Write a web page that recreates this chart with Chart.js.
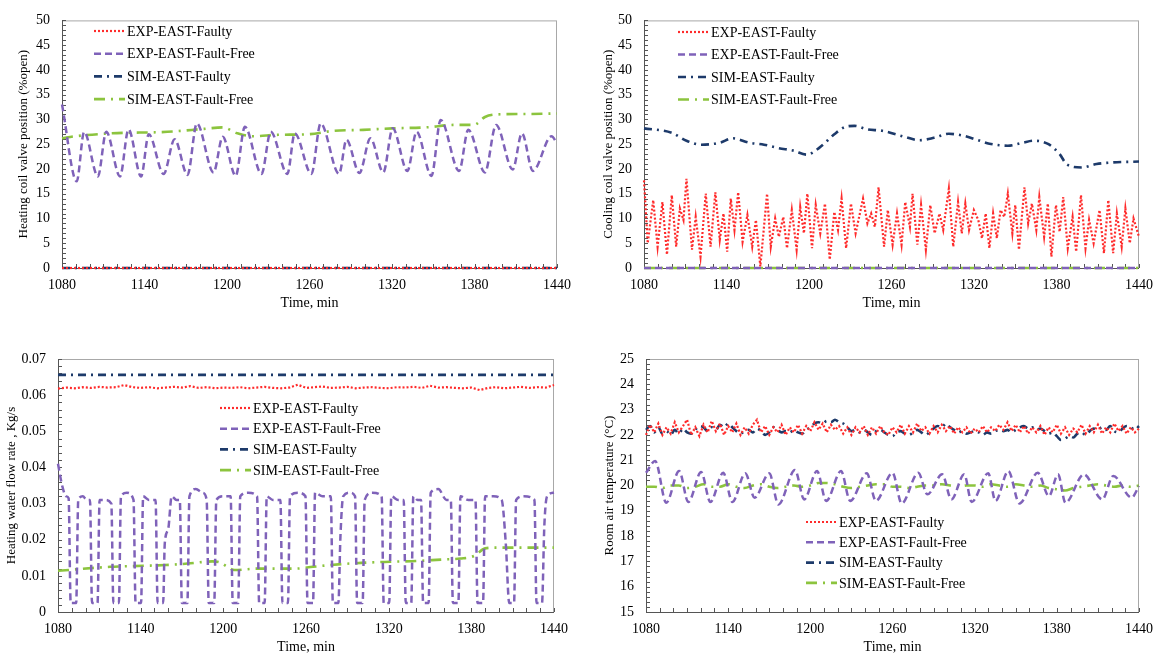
<!DOCTYPE html>
<html>
<head>
<meta charset="utf-8">
<title>EAST zone – faulty vs fault-free</title>
<script src="https://cdn.jsdelivr.net/npm/chart.js@4.4.1/dist/chart.umd.min.js"></script>
<style>
  html, body { margin: 0; padding: 0; background: #fff; overflow: hidden; }
  canvas { position: absolute; }
</style>
</head>
<body>
<canvas id="heatValve" width="580" height="320" style="left:0;top:0"></canvas>
<canvas id="coolValve" width="582" height="320" style="left:580px;top:0"></canvas>
<canvas id="waterFlow" width="580" height="330" style="left:0;top:330px"></canvas>
<canvas id="roomTemp" width="582" height="330" style="left:580px;top:330px"></canvas>
<script>
// ---- data (time in min) ----
var seriesNames = ["EXP-EAST-Faulty", "EXP-EAST-Fault-Free", "SIM-EAST-Faulty", "SIM-EAST-Fault-Free"];
var xTicks = [1080, 1140, 1200, 1260, 1320, 1380, 1440];
var valveTicks = [0, 5, 10, 15, 20, 25, 30, 35, 40, 45, 50];
var flowTicks = [0, 0.01, 0.02, 0.03, 0.04, 0.05, 0.06, 0.07];
var tempTicks = [15, 16, 17, 18, 19, 20, 21, 22, 23, 24, 25];

var zeroT = [1080, 1440];
var zeroV = [0, 0];

var t3 = [1080,1083,1086,1089,1092,1095,1098,1101,1104,1107,
  1110,1113,1116,1119,1122,1125,1128,1131,1134,1137,
  1140,1143,1146,1149,1152,1155,1158,1161,1164,1167,
  1170,1173,1176,1179,1182,1185,1188,1191,1194,1197,
  1200,1203,1206,1209,1212,1215,1218,1221,1224,1227,
  1230,1233,1236,1239,1242,1245,1248,1251,1254,1257,
  1260,1263,1266,1269,1272,1275,1278,1281,1284,1287,
  1290,1293,1296,1299,1302,1305,1308,1311,1314,1317,
  1320,1323,1326,1329,1332,1335,1338,1341,1344,1347,
  1350,1353,1356,1359,1362,1365,1368,1371,1374,1377,
  1380,1383,1386,1389,1392,1395,1398,1401,1404,1407,
  1410,1413,1416,1419,1422,1425,1428,1431,1434,1437,
  1440];
var t6 = [1080,1086,1092,1098,1104,1110,1116,1122,1128,1134,
  1140,1146,1152,1158,1164,1170,1176,1182,1188,1194,
  1200,1206,1212,1218,1224,1230,1236,1242,1248,1254,
  1260,1266,1272,1278,1284,1290,1296,1302,1308,1314,
  1320,1326,1332,1338,1344,1350,1356,1362,1368,1374,
  1380,1386,1392,1398,1404,1410,1416,1422,1428,1434,
  1440];

// heating coil valve
var heatExpFreeT = [1080,1090.7,1096.1,1106.1,1112.2,1122.2,1128.4,1137.5,1143.1,1153.9,
  1161.9,1171.3,1178.1,1190.2,1196.9,1206.3,1213.0,1225.1,1231.8,1243.9,
  1249.3,1261.4,1268.1,1281.5,1286.9,1296.3,1304.3,1313.7,1320.5,1331.2,
  1337.9,1348.7,1355.4,1368.8,1375.5,1387.6,1395.7,1407.8,1414.5,1422.5,
  1436.0,1440];
var heatExpFreeV = [33,17.5,27.5,18.5,27.5,18.5,28,18.5,27,19,
  26,18.8,29.2,19.3,26.5,18.6,28.5,19,27.5,19,
  27.2,19,29.2,19,25.9,19.2,26.2,19.3,28.2,19.6,
  27.5,18.6,29.9,19.6,27.9,19.3,28.9,19.9,27.2,19.6,
  26.6,25.2];
var heatSimFreeT = [1080,1089.4,1116.3,1156.6,1183.4,1196.9,1207.6,1218.4,1237.2,1258.7,
  1277.5,1299,1320.5,1344.6,1366.1,1379.6,1387.6,1395.7,1417.2,1440];
var heatSimFreeV = [26.2,26.6,27.2,27.5,28.1,28.4,27.2,26.6,26.9,27,
  27.7,27.9,28.2,28.4,28.9,28.9,30.5,31,31.1,31.2];

// cooling coil valve
var coolExpFaultyT = [1080,1082.7,1086.7,1089.9,1093.4,1096.7,1100.2,1103.4,1106.1,1108.7,
  1110.9,1114.9,1117.6,1121.1,1124.9,1128.4,1131.9,1135.1,1137.8,1140.5,
  1143.1,1145.8,1148.5,1151.7,1155.2,1158.7,1161.4,1164.6,1169.5,1172.2,
  1175.4,1178.1,1181.3,1184,1187.5,1191,1193.6,1196.3,1198.8,1202.2,
  1204.9,1208.2,1211.6,1215.1,1218.4,1221.1,1223.7,1227,1230.5,1233.9,
  1239.3,1242.5,1245.2,1247.9,1250.6,1254.6,1257.3,1260.8,1264,1267.3,
  1270,1273.4,1275.3,1278.8,1281.5,1285,1288.2,1291.4,1294.9,1297.6,
  1301.7,1304.9,1308.4,1311.1,1313.7,1316.4,1319.9,1323.1,1325.8,1328.5,
  1331.2,1333.9,1336.6,1339.3,1342,1344.6,1347.9,1350,1352.7,1356.7,
  1359.4,1362.1,1365.3,1367.5,1371,1373.7,1376.3,1379.6,1382.3,1384.9,
  1388.2,1391.7,1394.3,1397.8,1401.1,1403.7,1407,1411.3,1414.5,1417.7,
  1421.2,1423.9,1427.4,1430.1,1433.3,1436,1440];
var coolExpFaultyV = [17.7,5,13.7,4.3,13.3,2.7,14.7,4.3,12,9.7,
  18,3.7,10.3,2.3,15,4.3,15.3,5.7,11,3.3,
  14,7.7,15.3,5.3,10.7,4.3,9.7,0.3,15,4.3,
  10,6.3,10.3,4,11.7,3.7,12.3,7,15,4,
  12.7,7,13,1.7,11.3,7.7,14,4,13,7,
  14,9,11,8.3,16.3,4.3,11.7,4.7,11,4.7,
  13.3,8.3,15,4.7,12.7,3.7,12.7,7,11,7.7,
  16,4.3,13.3,7,13,7.7,11.7,9.7,6,11,
  4,11,6,11.7,10.3,15,7,12.7,3.7,16.3,
  9,13,7.7,14.3,6.3,13,2.3,12.7,7.3,14.3,
  4,10.3,3.3,14.7,4,9.7,5,11.7,3,13.7,
  3,11,4.3,12,5,10,6.3];
var coolSimFaultyT = [1080,1100.2,1110.9,1121.6,1135.1,1144.5,1156.6,1167.3,1178.1,1188.8,
  1198.2,1207.6,1218.4,1226.4,1233.1,1242.5,1253.3,1269.4,1280.2,1290.9,
  1301.7,1312.4,1323.1,1331.2,1344.6,1355.4,1363.5,1374.2,1382.3,1387.6,
  1398.4,1409.1,1419.9,1440];
var coolSimFaultyV = [28.2,27.3,25.7,24.9,25.3,26.2,25.3,24.9,24.2,23.7,
  22.9,24.3,27,28.5,28.7,28,27.7,26.5,25.8,26.3,
  27.1,26.7,25.8,25.1,24.7,25.3,25.7,25,23,20.9,
  20.3,21,21.3,21.5];

// heating water flow rate
var flowExpFaultyV = [0.0618,0.0621,0.0619,0.0622,0.0620,0.0623,0.0621,0.0622,0.0628,0.0622,
  0.0620,0.0622,0.0619,0.0621,0.0623,0.0621,0.0625,0.0620,0.0622,0.0619,
  0.0621,0.0620,0.0622,0.0619,0.0621,0.0623,0.0620,0.0619,0.0621,0.0629,
  0.0620,0.0622,0.0624,0.0620,0.0621,0.0623,0.0619,0.0621,0.0622,0.0620,
  0.0619,0.0622,0.0621,0.0623,0.0620,0.0626,0.0621,0.0622,0.0620,0.0619,
  0.0621,0.0614,0.0620,0.0622,0.0619,0.0621,0.0623,0.0620,0.0622,0.0621,
  0.0628];
var flowExpFreeT = [1080,1083,1086,1087.7,1089.2,1093.2,1094.7,1098,1101,1103.2,
  1104.7,1108.7,1110.2,1114,1118.7,1120.2,1124.2,1125.7,1130,1134.8,
  1136.3,1140.3,1141.8,1146,1150.8,1152.3,1156.3,1157.5,1160,1162.5,
  1166,1168.4,1169.9,1173.9,1175.4,1180,1185,1187.9,1189.4,1193.4,
  1194.9,1200,1205.3,1206.8,1210.8,1212.3,1218,1224.5,1226,1230,
  1231.5,1236,1241.4,1242.9,1246.9,1248.4,1254,1259.6,1261.1,1265.1,
  1266.6,1272,1278,1279.5,1283.5,1285,1287,1292,1295.6,1297.1,
  1301.1,1302.6,1308,1314.9,1316.4,1320.4,1321.9,1327,1330.9,1332.4,
  1336.4,1337.9,1341,1343.5,1345,1349,1350.5,1356,1362,1365.1,
  1366.6,1370.6,1372.1,1378,1383,1384.5,1388.5,1390,1396,1402,
  1405,1407.5,1411,1412.5,1418,1425.8,1427.3,1431.3,1433,1435,
  1440];
var flowExpFreeV = [0.041,0.035,0.032,0.0315,0.0025,0.0025,0.031,0.032,0.031,0.031,
  0.0025,0.0025,0.031,0.031,0.030,0.0025,0.0025,0.032,0.033,0.031,
  0.0025,0.0025,0.032,0.031,0.031,0.0025,0.0025,0.019,0.023,0.032,
  0.031,0.031,0.0025,0.0025,0.032,0.034,0.033,0.031,0.0025,0.0025,
  0.031,0.032,0.032,0.0025,0.0025,0.032,0.033,0.032,0.0025,0.0025,
  0.032,0.031,0.031,0.0025,0.0025,0.032,0.033,0.032,0.0025,0.0025,
  0.033,0.032,0.032,0.0025,0.0025,0.021,0.032,0.033,0.032,0.0025,
  0.0025,0.031,0.033,0.032,0.0025,0.0025,0.032,0.031,0.031,0.0025,
  0.0025,0.032,0.031,0.031,0.0025,0.0025,0.033,0.034,0.031,0.031,
  0.0025,0.0025,0.032,0.031,0.031,0.0025,0.0025,0.032,0.032,0.031,
  0.019,0.0025,0.0025,0.031,0.032,0.031,0.0025,0.0025,0.024,0.032,
  0.033];
var flowSimFaultyV = [0.0656, 0.0656];
var flowSimFreeT = [1080,1118,1134,1158,1174,1187,1192,1197,1203,1208,
  1225,1252,1265,1278,1300,1321,1340,1358,1372,1382,
  1390,1398,1412,1440];
var flowSimFreeV = [0.0114,0.0125,0.0127,0.013,0.0134,0.0139,0.014,0.0138,0.0125,0.0116,
  0.012,0.012,0.0125,0.013,0.0136,0.0139,0.0141,0.0145,0.0148,0.0155,
  0.0176,0.0178,0.0178,0.0178];

// room air temperature
var tempExpFaultyV = [22.0,22.4,22.1,22.45,22.0,22.3,22.05,22.5,22.1,22.35,
  22.6,22.0,22.3,21.95,22.4,22.1,22.55,22.15,22.45,22.0,
  22.35,22.1,22.45,22.0,22.3,22.05,22.4,22.6,22.1,22.35,
  22.0,22.3,22.1,22.4,22.0,22.3,22.1,22.4,22.05,22.35,
  22.15,22.5,22.2,22.45,22.1,22.4,22.2,22.35,22.05,22.3,
  22.0,22.3,22.1,22.35,22.0,22.3,22.05,22.35,22.1,22.0,
  22.3,22.1,22.4,22.05,22.35,22.1,22.45,22.15,22.3,22.05,
  22.35,22.1,22.4,22.15,22.35,22.05,22.3,22.1,22.3,22.05,
  22.25,22.1,22.35,22.1,22.3,22.15,22.4,22.2,22.5,22.15,
  22.4,22.1,22.35,22.05,22.3,22.1,22.35,22.0,22.3,22.1,
  22.4,22.05,22.3,22.0,22.25,22.1,22.4,22.05,22.35,22.1,
  22.4,22.05,22.3,22.1,22.45,22.15,22.35,22.05,22.3,22.1,
  22.25];
var tempExpFreeT = [1080,1086.7,1094.8,1104.2,1110.9,1120.3,1127,1136.4,1143.1,1152.5,
  1159.3,1170,1176.7,1188.8,1195.5,1204.9,1211.6,1222.4,1229.1,1241.2,
  1247.9,1260,1266.7,1278.8,1285.5,1296.3,1303,1312.4,1317.8,1329.9,
  1335.2,1344.6,1352.7,1366.1,1374.2,1380.9,1386.3,1399.7,1413.2,1421.2,
  1434.6,1440];
var tempExpFreeV = [20.5,20.97,19.32,20.57,19.35,20.53,19.35,20.5,19.35,20.48,
  19.52,20.48,19.25,20.61,19.45,20.57,19.39,20.57,19.39,20.48,
  19.39,20.5,19.29,20.5,19.65,20.44,19.45,20.44,19.35,20.48,
  19.39,20.57,19.29,20.5,19.58,20.44,19.32,20.44,19.45,20.38,
  19.52,19.98];
var tempSimFaultyV = [22.2,22.35,22.1,22.3,22.05,22.15,22.0,22.2,22.05,22.25,
  22.1,22.05,22.2,22.35,22.3,22.15,22.3,22.2,22.4,22.3,
  22.45,22.3,22.15,22.05,22.15,22.2,22.1,22.25,22.15,22.0,
  22.1,22.3,22.2,22.1,22.15,22.1,22.2,22.1,22.05,22.2,
  22.3,22.45,22.5,22.45,22.55,22.5,22.6,22.5,22.45,22.3,
  22.15,22.2,22.1,22.2,22.1,22.0,22.15,22.2,22.1,22.0,
  21.95,22.1,22.15,22.05,22.0,22.1,22.2,22.1,22.0,22.1,
  22.25,22.35,22.3,22.45,22.3,22.2,22.1,22.15,22.05,22.1,
  22.15,22.1,22.0,22.1,22.05,22.15,22.2,22.15,22.2,22.1,
  22.2,22.3,22.35,22.25,22.3,22.2,22.25,22.15,22.05,22.1,
  21.95,21.8,21.85,21.95,21.9,22.05,22.1,22.0,22.15,22.25,
  22.2,22.3,22.2,22.35,22.15,22.1,22.25,22.35,22.3,22.2,
  22.35];
var tempSimFreeV = [19.95,19.95,19.9,20.0,20.0,19.9,19.95,20.05,19.95,19.95,
  20.05,19.95,19.9,20.0,20.05,19.95,19.9,19.95,20.0,19.95,
  20.0,20.1,20.1,20.05,19.95,19.9,19.95,20.0,20.05,20.05,
  19.95,19.95,19.9,19.95,20.0,20.0,20.05,20.0,19.95,20.0,
  20.0,19.95,20.05,20.0,19.95,20.05,20.0,19.95,20.0,19.9,
  19.85,19.8,19.9,19.95,20.0,20.05,20.0,19.95,20.0,19.95,
  20.0];

// ---- look ----
var FONT = '"Liberation Serif", "Times New Roman", serif';
var INK = '#000';
var lineStyle = [
  { color: '#ff2b2b', dash: [2, 2], width: 2.2 },
  { color: '#7f62b9', dash: [7, 4], width: 2.5 },
  { color: '#1d3a6a', dash: [8, 5, 2, 5], width: 2.6 },
  { color: '#8cc43e', dash: [11, 6, 2, 6], width: 2.6 }
];

function pts(t, v) {
  return t.map(function (x, i) { return { x: x, y: v[i] }; });
}

// frame box + small inward ticks like the original plots
var frame = {
  id: 'frame',
  beforeDatasetsDraw: function (chart, args, o) {
    var ctx = chart.ctx, a = chart.chartArea, xs = chart.scales.x, ys = chart.scales.y;
    ctx.save();
    ctx.lineWidth = 1;
    ctx.strokeStyle = '#a8a8a8';
    ctx.strokeRect(a.left + 0.5, a.top + 0.5, a.right - a.left - 1, a.bottom - a.top);
    ctx.strokeStyle = '#555';
    ctx.beginPath();
    ctx.moveTo(a.left + 0.5, a.top);
    ctx.lineTo(a.left + 0.5, a.bottom + 0.5);
    ctx.lineTo(a.right, a.bottom + 0.5);
    var n = Math.round((xs.max - xs.min) / o.xMinor);
    for (var i = 0; i <= n; i++) {
      var px = Math.round(xs.getPixelForValue(xs.min + i * o.xMinor)) + 0.5;
      ctx.moveTo(px, a.bottom);
      ctx.lineTo(px, a.bottom - 4);
    }
    var m = Math.round((ys.max - ys.min) / o.yMinor);
    for (var j = 0; j <= m; j++) {
      var py = Math.round(ys.getPixelForValue(ys.min + j * o.yMinor)) + 0.5;
      ctx.moveTo(a.left, py);
      ctx.lineTo(a.left + 4, py);
    }
    ctx.stroke();
    ctx.restore();
  }
};

// legend drawn inside the plot area
var insideLegend = {
  id: 'insideLegend',
  afterDraw: function (chart, args, o) {
    var ctx = chart.ctx;
    ctx.save();
    ctx.font = '14px ' + FONT;
    ctx.textBaseline = 'middle';
    chart.data.datasets.forEach(function (ds, i) {
      var y = o.y + i * o.gap;
      ctx.beginPath();
      ctx.setLineDash(ds.borderDash);
      ctx.strokeStyle = ds.borderColor;
      ctx.lineWidth = ds.borderWidth;
      ctx.moveTo(o.x, y);
      ctx.lineTo(o.x + 31, y);
      ctx.stroke();
      ctx.setLineDash([]);
      ctx.fillStyle = INK;
      ctx.fillText(ds.label, o.x + 33, y + 1);
    });
    ctx.restore();
  }
};

function makeChart(id, box, y, series, legendAt) {
  var datasets = series.map(function (s, i) {
    return {
      label: seriesNames[i],
      data: pts(s.t, s.v),
      borderColor: lineStyle[i].color,
      borderDash: lineStyle[i].dash,
      borderWidth: lineStyle[i].width,
      pointRadius: 0,
      fill: false,
      clip: 6,
      cubicInterpolationMode: s.smooth ? 'monotone' : 'default',
      tension: s.smooth ? 0.4 : 0
    };
  });
  return new Chart(document.getElementById(id), {
    type: 'line',
    data: { datasets: datasets },
    plugins: [frame, insideLegend],
    options: {
      responsive: false,
      animation: false,
      events: [],
      layout: { padding: { top: box.top, right: box.right, left: 0, bottom: 0 } },
      plugins: {
        legend: { display: false },
        tooltip: { enabled: false },
        frame: { xMinor: 10, yMinor: y.minor },
        insideLegend: legendAt
      },
      scales: {
        x: {
          type: 'linear', min: 1080, max: 1440,
          afterBuildTicks: function (s) { s.ticks = xTicks.map(function (v) { return { value: v }; }); },
          afterFit: function (s) { s.height = box.xH; },
          grid: { display: false, drawTicks: false },
          border: { display: false },
          ticks: { padding: 9, color: INK, maxRotation: 0, font: { family: FONT, size: 14 },
                   callback: function (v) { return String(v); } },
          title: { display: true, text: 'Time, min', color: INK, font: { family: FONT, size: 14 },
                   padding: { top: 0, bottom: box.xTitle } }
        },
        y: {
          type: 'linear', min: y.ticks[0], max: y.ticks[y.ticks.length - 1],
          afterBuildTicks: function (s) { s.ticks = y.ticks.map(function (v) { return { value: v }; }); },
          afterFit: function (s) { s.width = box.yW; },
          grid: { display: false, drawTicks: false },
          border: { display: false },
          ticks: { padding: 12, color: INK, font: { family: FONT, size: 14 }, callback: y.fmt },
          title: { display: true, text: y.title, color: INK, font: { family: FONT, size: 13 },
                   padding: { top: box.yTitle, bottom: 0 } }
        }
      }
    }
  });
}

function plain(v) { return String(v); }
function flowFmt(v) { return v === 0 ? '0' : v.toFixed(2); }

makeChart('heatValve',
  { top: 18, right: 23, yW: 62, xH: 52, yTitle: 16, xTitle: 8 },
  { ticks: valveTicks, minor: 1, fmt: plain, title: 'Heating coil valve position (%open)' },
  [ { t: zeroT, v: zeroV },
    { t: heatExpFreeT, v: heatExpFreeV, smooth: true },
    { t: zeroT, v: zeroV },
    { t: heatSimFreeT, v: heatSimFreeV, smooth: true } ],
  { x: 94, y: 31, gap: 22.7 });

makeChart('coolValve',
  { top: 18, right: 20, yW: 64, xH: 52, yTitle: 21, xTitle: 8 },
  { ticks: valveTicks, minor: 1, fmt: plain, title: 'Cooling coil valve position (%open)' },
  [ { t: coolExpFaultyT, v: coolExpFaultyV },
    { t: zeroT, v: zeroV },
    { t: coolSimFaultyT, v: coolSimFaultyV, smooth: true },
    { t: zeroT, v: zeroV } ],
  { x: 98, y: 32, gap: 22.5 });

makeChart('waterFlow',
  { top: 29, right: 26, yW: 58, xH: 48, yTitle: 4, xTitle: 4 },
  { ticks: flowTicks, minor: 0.002, fmt: flowFmt, title: 'Heating water flow rate , Kg/s' },
  [ { t: t6, v: flowExpFaultyV },
    { t: flowExpFreeT, v: flowExpFreeV, smooth: true },
    { t: zeroT, v: flowSimFaultyV },
    { t: flowSimFreeT, v: flowSimFreeV, smooth: true } ],
  { x: 220, y: 78, gap: 20.7 });

makeChart('roomTemp',
  { top: 29, right: 17, yW: 66, xH: 48, yTitle: 22, xTitle: 4 },
  { ticks: tempTicks, minor: 0.2, fmt: plain, title: 'Room air temperature (°C)' },
  [ { t: t3, v: tempExpFaultyV },
    { t: tempExpFreeT, v: tempExpFreeV, smooth: true },
    { t: t3, v: tempSimFaultyV, smooth: true },
    { t: t6, v: tempSimFreeV, smooth: true } ],
  { x: 226, y: 192, gap: 20.3 });
</script>
</body>
</html>
